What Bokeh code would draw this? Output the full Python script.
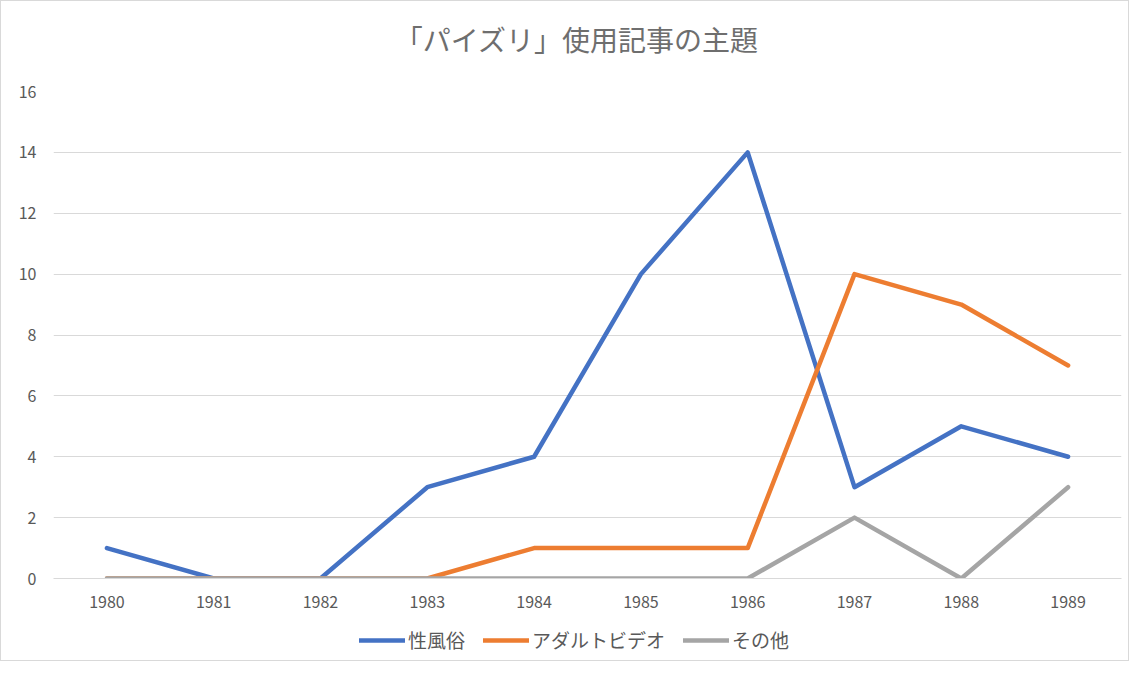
from bokeh.plotting import figure
from bokeh.layouts import column
from bokeh.models import FixedTicker, Legend, LegendItem, Range1d
from bokeh.core.properties import value
from bokeh.embed import file_html
from bokeh.resources import INLINE

title_text = "「パイズリ」使用記事の主題"
years = [1980, 1981, 1982, 1983, 1984, 1985, 1986, 1987, 1988, 1989]
fuzoku = [1, 0, 0, 3, 4, 10, 14, 3, 5, 4]
adult_video = [0, 0, 0, 0, 1, 1, 1, 10, 9, 7]
sonota = [0, 0, 0, 0, 0, 0, 0, 2, 0, 3]
series_names = ["性風俗", "アダルトビデオ", "その他"]
colors = ["#4472C4", "#ED7D31", "#A5A5A5"]
y_ticks = [0, 2, 4, 6, 8, 10, 12, 14, 16]

JP = "Noto Sans CJK JP"
TXT = "#595959"
W = 1127


def strip(h):
    f = figure(width=W, height=h, output_backend="svg", toolbar_location=None,
               min_border=0, x_range=Range1d(0, 1), y_range=Range1d(0, 1))
    f.axis.visible = False
    f.grid.visible = False
    f.outline_line_color = None
    f.border_fill_color = "white"
    return f


# title strip
tf = strip(62)
tf.text(x=[0.49], y=[0.39], text=[title_text], text_align="center", text_baseline="middle",
        text_font=value(JP), text_font_size="28px", text_color="#6e6e6e")

p = figure(width=W, height=556, output_backend="svg", toolbar_location=None,
           x_range=Range1d(years[0] - 0.5, years[-1] + 0.5), y_range=Range1d(0, 16),
           min_border_left=52, min_border_right=7, min_border_top=28, min_border_bottom=41)

p.outline_line_color = None
p.background_fill_color = "white"
p.border_fill_color = "white"

p.xgrid.grid_line_color = None
p.ygrid.grid_line_color = "#d9d9d9"
p.ygrid.grid_line_width = 1.2
p.ygrid.ticker = FixedTicker(ticks=y_ticks)

p.yaxis.ticker = FixedTicker(ticks=y_ticks)
p.yaxis.axis_line_color = None
p.yaxis.major_tick_line_color = None
p.yaxis.minor_tick_line_color = None
p.yaxis.major_label_text_font = JP
p.yaxis.major_label_text_font_size = "16px"
p.yaxis.major_label_text_color = TXT
p.yaxis.major_label_standoff = 11

p.xaxis.ticker = FixedTicker(ticks=years)
p.xaxis.axis_line_color = "#d9d9d9"
p.xaxis.axis_line_width = 1.2
p.xaxis.major_tick_line_color = None
p.xaxis.minor_tick_line_color = None
p.xaxis.major_label_text_font = JP
p.xaxis.major_label_text_font_size = "16px"
p.xaxis.major_label_text_color = TXT
p.xaxis.major_label_standoff = 11

for vals, c in zip([fuzoku, adult_video, sonota], colors):
    p.line(years, vals, line_color=c, line_width=4.5, line_cap="round", line_join="round")

# legend strip below the chart
lf = strip(41)
items = []
for name, c in zip(series_names, colors):
    r = lf.line([-10, -9], [-10, -9], line_color=c, line_width=4.5, line_cap="round")
    items.append(LegendItem(label=name, renderers=[r]))
legend = Legend(items=items, orientation="horizontal", location=(306, 7),
                border_line_color=None, background_fill_alpha=0,
                label_text_font=JP, label_text_font_size="19px", label_text_color=TXT,
                glyph_width=46, glyph_height=24, spacing=18, label_standoff=3,
                margin=0, padding=0)
lf.add_layout(legend, "center")

layout = column(tf, p, lf, spacing=0)
layout.styles = {"border": "1px solid #d9d9d9", "box-sizing": "border-box"}

open("out.html", "w").write(file_html(layout, INLINE))
